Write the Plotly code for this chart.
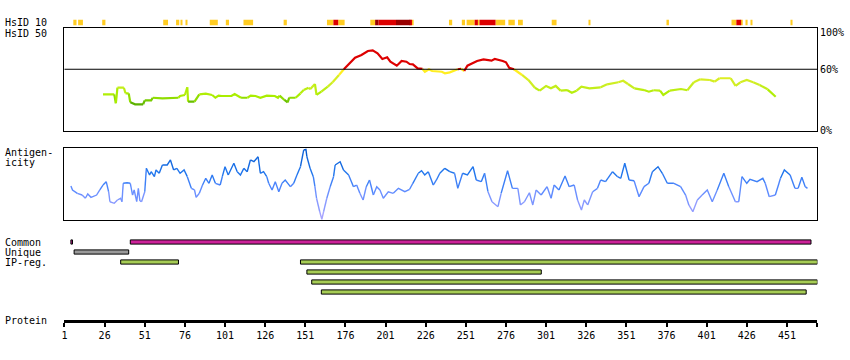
import plotly.graph_objects as go

# ---------------- data ----------------
PROTEIN_LENGTH = 470
tick_residues = [1, 26, 51, 76, 101, 126, 151, 176, 201, 226, 251, 276, 301, 326, 351, 376, 401, 426, 451]

# HsID 10 strip: residue start, residue end, level
hsid10_start = [7, 10, 25, 63, 71, 74, 77, 92, 102, 113, 138, 165, 169, 172, 192, 195, 197, 208, 217, 218,
                 241, 249, 252, 257, 259, 260, 270, 278, 284, 305, 328, 377, 417, 420, 423, 426, 429, 454]
hsid10_end = [8, 12, 26, 65, 72, 74, 77, 96, 103, 118, 139, 168, 171, 175, 194, 196, 207, 216, 217, 218,
              242, 250, 256, 258, 259, 269, 275, 281, 286, 307, 328, 377, 419, 422, 423, 426, 429, 454]
hsid10_level = ["mid", "mid", "mid", "mid", "mid", "mid", "mid", "mid", "mid", "mid", "mid", "mid", "high", "mid",
                "mid", "top", "high", "top", "high", "mid",
                "mid", "mid", "mid", "high", "mid", "high", "mid", "mid", "mid", "mid", "mid", "mid", "mid", "high",
                "mid", "mid", "mid", "mid"]

# HsID 50 identity curve (%)
hsid50_pos = [25, 32, 33, 34, 38, 39, 41, 42, 45, 50, 51, 55, 56, 62, 72, 73, 76, 77.5, 78, 82, 85, 89, 93, 95, 97,
              99, 105, 107, 111, 115, 117, 120, 123, 127, 132, 134, 135, 138, 140, 141, 145, 148, 150, 153, 154,
              157, 158, 161, 165, 168, 172, 175, 178, 182, 186, 190, 193, 196, 199, 202, 204, 208, 211, 214, 216,
              218, 221, 224, 225.5, 228, 230, 236, 238, 241, 246, 248, 250, 252, 258, 262, 267, 269, 274, 276, 278,
              281, 286, 290, 294, 297, 301, 304, 307, 310, 314, 317, 320, 323, 328, 335, 339, 346, 349, 352, 356,
              362, 365, 368, 372, 374, 378, 385, 389, 393, 397, 403, 406, 409, 416, 419, 422, 426, 430, 434, 439,
              444]
hsid50_val = [35.5, 35.5, 26.8, 42.0, 42.0, 36.5, 36.5, 27.7, 25.8, 25.8, 29.7, 29.7, 32.2, 31.6, 32.2, 33.9, 34.9,
              42.4, 28.3, 28.3, 35.5, 36.1, 34.9, 32.2, 34.2, 33.9, 33.9, 35.8, 32.2, 32.2, 34.2, 33.9, 32.2, 34.2,
              33.9, 32.2, 34.2, 30.0, 27.7, 32.2, 32.2, 36.5, 39.7, 42.0, 40.4, 45.6, 34.9, 38.1, 43.0, 47.3, 54.4,
              60.0, 64.8, 71.3, 73.9, 77.8, 78.5, 75.6, 70.0, 71.7, 67.4, 63.5, 68.1, 67.4, 65.1, 64.8, 60.9, 60.3,
              57.6, 60.0, 58.3, 57.6, 56.1, 57.0, 60.0, 60.5, 58.3, 63.5, 68.1, 69.7, 68.4, 70.0, 68.1, 66.8, 61.5,
              60.0, 54.4, 49.5, 42.0, 39.1, 43.7, 41.4, 43.7, 39.1, 39.7, 37.1, 39.1, 43.0, 41.4, 42.4, 45.3, 47.3,
              48.8, 45.6, 41.4, 39.7, 38.1, 39.5, 39.1, 34.9, 39.1, 40.7, 39.5, 47.3, 50.2, 49.5, 47.9, 51.2, 51.2,
              43.7, 47.3, 49.5, 47.3, 44.6, 40.4, 33.2]

# Antigenicity curve (relative score, 0-100)
antigen_pos = [5, 6, 9, 12, 14, 15.5, 17.5, 21, 23, 25, 27, 28.5, 29.3, 32, 34, 36, 36.8, 37.6, 40, 42, 43.4, 44.4,
               46, 47, 48, 49, 51, 52, 54, 55, 57, 58, 60, 62, 65, 67, 69, 71, 73, 75.5, 77.5, 80, 82, 83, 85, 87,
               89, 91, 93, 95, 98, 99.3, 101, 103, 106.5, 108.6, 110.6, 112.7, 114.8, 116.8, 119, 121.6, 123, 125,
               127, 128.2, 130.3, 132.3, 134.5, 136.5, 138.5, 141.7, 143.8, 145.8, 148, 150, 151.4, 152, 154, 156,
               157, 158, 160, 161.3, 162.4, 164.4, 166.5, 168.6, 169.6, 172.7, 174.8, 178, 181, 183, 185, 187, 189,
               191, 193.4, 195.5, 197.5, 199.6, 202.7, 205.8, 209, 213, 216, 218, 221.4, 223.4, 225.4, 227.6, 230.7,
               232.7, 234.8, 237.9, 241, 244, 246, 249, 252, 255.5, 257.5, 260.6, 262.7, 264.8, 267.3, 271, 273,
               277, 280, 283.4, 285, 287.5, 290.6, 292.7, 294.8, 297.9, 301.6, 304.1, 306, 309, 312.8, 315.4,
               318.5, 320.6, 323, 324.8, 326.9, 330, 333, 335, 338, 342.4, 345.5, 347.5, 350, 352.7, 355.8, 358.9,
               362, 365, 367.2, 370.7, 373.4, 376.5, 380.6, 384.8, 387.9, 389.9, 392.4, 395.2, 398.2, 401.4, 404.5,
               407.6, 411.7, 414.8, 418.9, 421, 423, 426, 428, 432.4, 436, 437.5, 440, 443.8, 447, 449.4, 453,
               456, 458, 460.3, 462.4, 463.8]
antigen_val = [47.6, 42.1, 37.5, 35.1, 30.6, 36.5, 31.9, 35.1, 42.1, 49.0, 53.6, 39.7, 25.8, 23.6, 28.2, 30.6, 25.8,
               51.4, 52.2, 51.4, 35.1, 42.1, 25.8, 44.4, 26.8, 25.8, 39.7, 72.2, 62.9, 67.5, 60.6, 69.9, 65.3, 76.8,
               76.8, 83.8, 69.9, 72.2, 65.3, 69.9, 60.6, 44.4, 42.1, 31.9, 37.5, 49.0, 58.3, 51.4, 62.9, 51.4, 49.0,
               60.6, 74.4, 62.9, 79.2, 67.5, 62.9, 72.2, 67.5, 83.8, 81.4, 88.3, 65.3, 67.5, 60.6, 51.4, 42.1, 53.6,
               39.7, 51.4, 56.0, 46.7, 51.4, 62.9, 74.4, 97.6, 98.6, 88.3, 72.2, 60.6, 46.7, 30.6, 11.9, 1.4, 11.9,
               30.6, 46.7, 60.6, 76.8, 81.4, 69.9, 62.9, 46.7, 49.0, 37.5, 28.2, 46.7, 56.0, 35.1, 46.7, 42.1, 30.6,
               39.7, 37.5, 44.4, 39.7, 43.1, 51.4, 65.3, 68.9, 62.9, 67.5, 49.0, 56.0, 65.3, 72.2, 67.5, 65.3, 44.4,
               65.3, 62.9, 74.4, 56.0, 53.6, 65.3, 39.7, 25.8, 18.9, 37.5, 68.9, 44.4, 44.4, 21.3, 25.8, 38.3, 21.3,
               42.1, 35.1, 46.7, 30.6, 49.0, 42.1, 61.5, 46.7, 49.0, 28.2, 14.3, 28.2, 21.3, 39.7, 44.4, 56.0, 53.6,
               67.5, 60.6, 58.3, 79.2, 56.0, 55.0, 32.8, 46.7, 51.4, 67.5, 74.4, 65.3, 51.4, 51.4, 46.7, 35.1, 21.3,
               11.9, 28.2, 35.1, 42.1, 25.8, 42.1, 65.3, 46.7, 25.8, 25.8, 60.6, 51.4, 56.9, 53.6, 58.3, 51.4, 32.8,
               35.1, 58.3, 69.9, 62.9, 44.4, 44.4, 59.7, 46.7, 44.4]

# Features (residue ranges)
common_start = [5, 42]
common_end = [6, 466]
unique_start = [7]
unique_end = [41]
ipreg_row = [2, 2, 3, 4, 5]
ipreg_start = [36, 148, 152, 155, 161]
ipreg_end = [72, 470, 298, 470, 463]

# ---------------- styling helpers ----------------
W, H = 850, 360
FONT = "DejaVu Sans Mono"


def xd(px):
    return px / W


def yd(py):
    return 1 - py / H


X_DOMAIN = [xd(61.7), xd(817.3)]
LEVEL_COLORS = {"mid": "#FFCC22", "high": "#DD0000", "top": "#990000"}


def interp(stops, v):
    if v <= stops[0][0]:
        return stops[0][1]
    for (a, ca), (b, cb) in zip(stops, stops[1:]):
        if v <= b:
            t = (v - a) / (b - a)
            return tuple(int(round(ca[i] + (cb[i] - ca[i]) * t)) for i in range(3))
    return stops[-1][1]


HSID_STOPS = [(25, (0x55, 0xAA, 0x00)), (30, (0x77, 0xCC, 0x00)), (34, (0xAA, 0xEE, 0x00)),
              (45, (0xCC, 0xEE, 0x22)), (52, (0xDD, 0xEE, 0x22)), (56, (0xFF, 0xEE, 0x22)), (60, (0xFF, 0xEE, 0x22))]
ANT_STOPS = [(0, (0xB0, 0xA8, 0xFF)), (25, (0x88, 0x99, 0xFF)), (45, (0x55, 0x88, 0xFF)),
             (65, (0x22, 0x77, 0xEE)), (100, (0x00, 0x55, 0xCC))]


def hsid_color(v):
    if v >= 60:
        return "#DD0000"
    q = round(v / 2) * 2
    c = interp(HSID_STOPS, q)
    return "rgb(%d,%d,%d)" % c


def ant_color(v):
    q = round(v / 6) * 6
    c = interp(ANT_STOPS, q)
    return "rgb(%d,%d,%d)" % c


def colored_line_traces(xs, ys, colfn, width, xaxis, yaxis):
    traces = []
    cur_col, cx, cy = None, [], []
    for i in range(len(xs) - 1):
        col = colfn((ys[i] + ys[i + 1]) / 2)
        if col != cur_col:
            if cx:
                traces.append((cur_col, cx, cy))
            cur_col, cx, cy = col, [xs[i]], [ys[i]]
        cx.append(xs[i + 1])
        cy.append(ys[i + 1])
    if cx:
        traces.append((cur_col, cx, cy))
    return [go.Scatter(x=tx, y=ty, mode="lines", line=dict(color=c, width=width),
                       xaxis=xaxis, yaxis=yaxis, hoverinfo="skip", showlegend=False)
            for c, tx, ty in traces]


fig = go.Figure()

# protein ruler subplot (invisible anchor trace so the axis is drawn)
fig.add_trace(go.Scatter(x=[1, PROTEIN_LENGTH], y=[0.5, 0.5], mode="lines",
                         line=dict(color="rgba(0,0,0,0)", width=0), xaxis="x", yaxis="y",
                         hoverinfo="skip", showlegend=False))

# HsID 10 strip
for lvl, col in LEVEL_COLORS.items():
    idx = [i for i, l in enumerate(hsid10_level) if l == lvl]
    fig.add_trace(go.Bar(orientation="h", y=[0.5] * len(idx),
                         x=[hsid10_end[i] - hsid10_start[i] + 1 for i in idx],
                         base=[hsid10_start[i] - 0.5 for i in idx], width=1,
                         marker=dict(color=col, line=dict(width=0)),
                         xaxis="x5", yaxis="y5", hoverinfo="skip", showlegend=False))

# HsID 50 curve
for t in colored_line_traces(hsid50_pos, hsid50_val, hsid_color, 2.2, "x2", "y2"):
    fig.add_trace(t)

# Antigenicity curve
for t in colored_line_traces(antigen_pos, antigen_val, ant_color, 1.4, "x3", "y3"):
    fig.add_trace(t)

# Feature bars
bar_line = dict(color="black", width=1)
fig.add_trace(go.Bar(orientation="h", y=[0] * len(common_start),
                     x=[e - s for s, e in zip(common_start, common_end)], base=common_start, width=0.42,
                     marker=dict(color="#CC2299", line=bar_line), xaxis="x4", yaxis="y4",
                     hoverinfo="skip", showlegend=False))
fig.add_trace(go.Bar(orientation="h", y=[1] * len(unique_start),
                     x=[e - s for s, e in zip(unique_start, unique_end)], base=unique_start, width=0.42,
                     marker=dict(color="#999999", line=bar_line), xaxis="x4", yaxis="y4",
                     hoverinfo="skip", showlegend=False))
fig.add_trace(go.Bar(orientation="h", y=ipreg_row,
                     x=[e - s for s, e in zip(ipreg_start, ipreg_end)], base=ipreg_start, width=0.42,
                     marker=dict(color="#A6CC55", line=bar_line), xaxis="x4", yaxis="y4",
                     hoverinfo="skip", showlegend=False))

# ---------------- axes ----------------
xrange = [1, PROTEIN_LENGTH]
hidden_x = dict(domain=X_DOMAIN, range=xrange, showgrid=False, zeroline=False,
                showticklabels=False, ticks="", fixedrange=True)
box_x = dict(hidden_x, showline=True, mirror=True, linecolor="black", linewidth=1)

fig.update_layout(
    width=W, height=H,
    margin=dict(l=0, r=0, t=0, b=0),
    paper_bgcolor="white", plot_bgcolor="white",
    barmode="overlay", showlegend=False,
    font=dict(family=FONT, size=10, color="black"),
    # protein ruler
    xaxis=dict(domain=X_DOMAIN, range=xrange, anchor="y", showgrid=False, zeroline=False,
               showline=True, linecolor="black", linewidth=3,
               ticks="outside", ticklen=4, tickwidth=2, tickcolor="black",
               tickvals=tick_residues + [PROTEIN_LENGTH],
               ticktext=[str(t) for t in tick_residues] + [""],
               tickfont=dict(family=FONT, size=10, color="black"), fixedrange=True),
    yaxis=dict(domain=[yd(319.5), yd(312)], visible=False, range=[0, 1], fixedrange=True),
    # HsID 50 panel
    xaxis2=dict(box_x, anchor="y2", matches="x"),
    yaxis2=dict(domain=[yd(130.7), yd(28.3)], range=[0, 100], anchor="x2", showgrid=False,
                zeroline=False, showticklabels=False, ticks="", showline=True, mirror=True,
                linecolor="black", linewidth=1, fixedrange=True),
    # Antigenicity panel
    xaxis3=dict(box_x, anchor="y3", matches="x"),
    yaxis3=dict(domain=[yd(220.3), yd(148.3)], range=[0, 100], anchor="x3", showgrid=False,
                zeroline=False, showticklabels=False, ticks="", showline=True, mirror=True,
                linecolor="black", linewidth=1, fixedrange=True),
    # features
    xaxis4=dict(hidden_x, anchor="y4", matches="x", showline=False),
    yaxis4=dict(domain=[yd(297), yd(237)], range=[5.5, -0.5], anchor="x4", visible=False, fixedrange=True),
    # HsID 10 strip
    xaxis5=dict(hidden_x, anchor="y5", matches="x", showline=False),
    yaxis5=dict(domain=[yd(25.5), yd(19.5)], range=[0, 1], anchor="x5", visible=False, fixedrange=True),
)

# 60% threshold line
fig.add_shape(type="line", xref="x2 domain", x0=0, x1=1, yref="y2", y0=60, y1=60,
              line=dict(color="black", width=1))

# ---------------- labels ----------------
labels = [("HsID 10", 0, 22.5), ("HsID 50", 0, 33), ("Antigen-", 0, 152.5), ("icity", 0, 162.5),
          ("Common", 0, 242.5), ("Unique", 0, 252.5), ("IP-reg.", 0, 262.5), ("Protein", 0, 320),
          ("100%", 817.5, 32.5), ("60%", 817.5, 70), ("0%", 817.5, 130.5)]
for txt, px, py in labels:
    fig.add_annotation(text=txt, x=xd(px), y=yd(py), xref="paper", yref="paper",
                       xanchor="left", yanchor="middle", showarrow=False,
                       font=dict(family=FONT, size=10, color="black"))

fig.write_html("out.html", config={"displayModeBar": False},
               post_script="document.body.style.margin='0px';document.body.style.overflow='hidden';")
